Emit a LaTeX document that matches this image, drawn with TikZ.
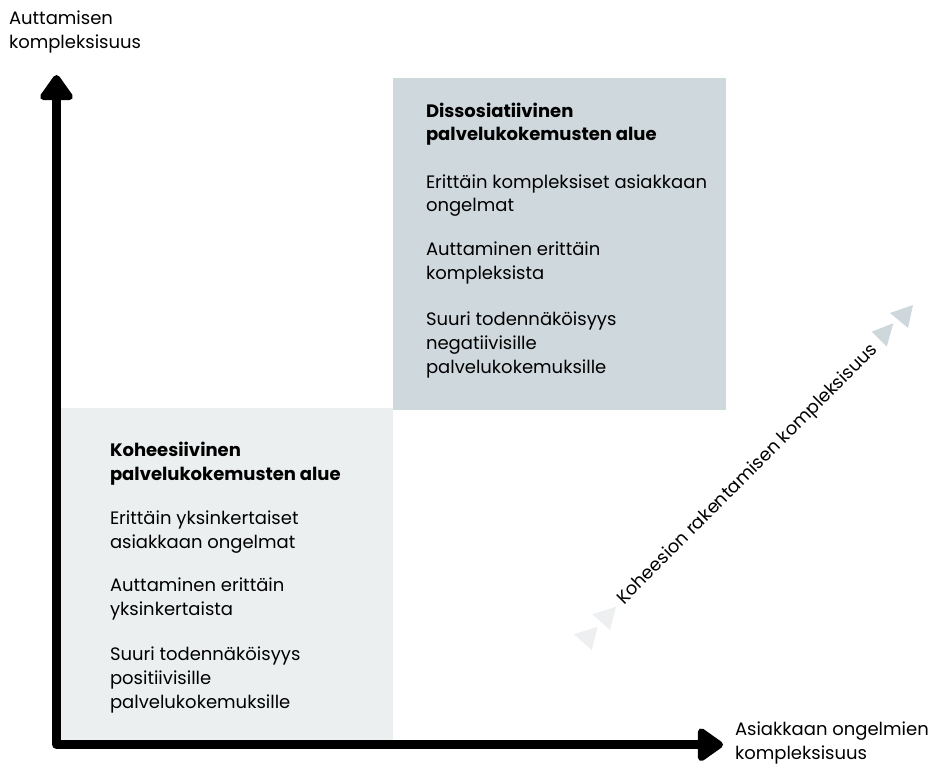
\documentclass[tikz,border=0pt]{standalone}
\usepackage{fontspec}
\setmainfont{Poppins}
\usetikzlibrary{arrows.meta}
\definecolor{paleblock}{HTML}{ECEFF0}
\definecolor{greyblock}{HTML}{CFD8DD}
\definecolor{palechev}{HTML}{EDEFF0}
\definecolor{greychev}{HTML}{CED7DB}
\begin{document}
\begin{tikzpicture}[x=0.75pt,y=-0.75pt,
  % multi-line nodes: "base" is the baseline of the last line
  every node/.style={inner sep=0pt, outer sep=0pt, align=left, anchor=base west,
    font=\fontsize{13.5}{17.8}\selectfont},
  head/.style={font=\fontsize{13.5}{17.8}\selectfont\bfseries},
  axis/.style={line width=6.5pt, line join=round,
    {Triangle[length=21pt,width=28pt,round]}-{Triangle[length=21pt,width=28pt,round]}},
]
\useasboundingbox (0,0) rectangle (937,766);

% quadrant blocks
\fill[paleblock] (60,408) rectangle (393,740);
\fill[greyblock] (393,78) rectangle (726,410);

% axes
\coordinate (ytop) at (56.5,75);
\coordinate (xend) at (723,744.7);
\draw[axis] (ytop) |- (xend);

% axis labels
\node (ylab) at (9,48.5) {Auttamisen\\kompleksisuus};
\node (xlab) at (735,759.5) {Asiakkaan ongelmien\\kompleksisuus};

% upper right block
\node[head] (dhead) at (426,141) {Dissosiatiivinen\\palvelukokemusten alue};
\node (d1) at (426,212) {Erittäin kompleksiset asiakkaan\\ongelmat};
\node (d2) at (426,279.5) {Auttaminen erittäin\\kompleksista};
\node (d3) at (426,373) {Suuri todennäköisyys\\negatiivisille\\palvelukokemuksille};

% lower left block
\node[head] (chead) at (110,480) {Koheesiivinen\\palvelukokemusten alue};
\node (c1) at (110,548) {Erittäin yksinkertaiset\\asiakkaan ongelmat};
\node (c2) at (110,615.5) {Auttaminen erittäin\\yksinkertaista};
\node (c3) at (110,708) {Suuri todennäköisyys\\positiivisille\\palvelukokemuksille};

% diagonal direction
\node[rotate=45] (diag) at (624,605) {Koheesion rakentamisen kompleksisuus};
\fill[palechev] (597.7,626.7) -- (574,634.3) -- (591.7,650) -- cycle;
\fill[palechev] (616,606.7) -- (592.3,614.3) -- (610,630) -- cycle;
\fill[greychev] (893.3,323.3) -- (871.7,331.7) -- (886.7,346.7) -- cycle;
\fill[greychev] (913,305) -- (890,313) -- (908,328) -- cycle;
\end{tikzpicture}
\end{document}
